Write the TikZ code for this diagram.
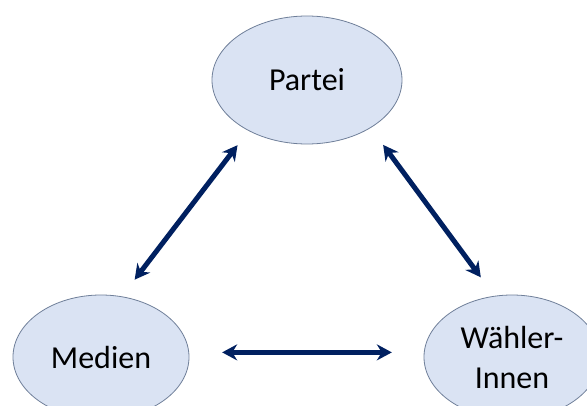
\documentclass[tikz,border=0pt]{standalone}
\usepackage{fontspec}
\setmainfont{Carlito}
\usetikzlibrary{arrows.meta,shapes.geometric}
\definecolor{darkblue}{HTML}{002060}
\definecolor{ellfill}{HTML}{DAE3F3}
\definecolor{ellline}{HTML}{6F7F99}
\tikzset{
  actor/.style={ellipse, draw=ellline, line width=0.8pt, fill=ellfill, inner sep=0pt,
    font=\fontsize{32}{40}\selectfont, align=center},
  link/.style={{Stealth[length=15pt,width=16pt]}-{Stealth[length=15pt,width=16pt]}, darkblue, line width=5pt}
}
\begin{document}
\begin{tikzpicture}[x=1pt,y=1pt]
				\useasboundingbox (0,0) rectangle (587,405);
				\clip (0,0) rectangle (587,405);
				\node[actor, minimum width=190pt, minimum height=128pt] (partei) at (307,325) {Partei};
				\node[actor, minimum width=176pt, minimum height=124pt] (medien) at (101,48) {Medien};
				\node[actor, minimum width=176pt, minimum height=124pt] (waehler) at (512,48) {Wähler-\\Innen};
				\draw[link, shorten <=21pt, shorten >=18pt] (medien.71) -- (partei.221);
				\draw[link, shorten <=21pt, shorten >=23pt] (partei.323) -- (waehler.106);
				\draw[link, shorten <=33pt, shorten >=32pt] (medien.3) -- (waehler.177);
			\end{tikzpicture}
\end{document}
